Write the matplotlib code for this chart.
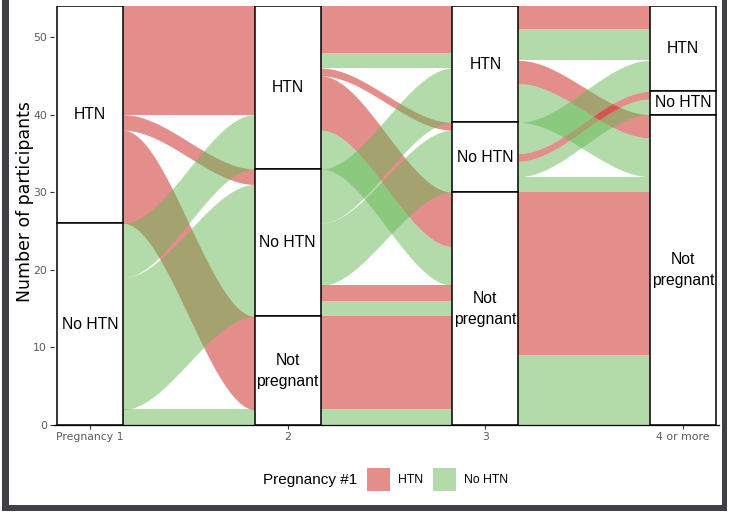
import numpy as np
import matplotlib
matplotlib.use("Agg")
import matplotlib.pyplot as plt
from matplotlib.patches import Rectangle

# ---------------- data ----------------
axis_labels = ["Pregnancy 1", "2", "3", "4 or more"]
strata_order = ["HTN", "No HTN", "Not pregnant"]          # top -> bottom
strata_text = {"HTN": "HTN", "No HTN": "No HTN", "Not pregnant": "Not\npregnant"}
groups = ["HTN", "No HTN"]                                 # Pregnancy #1 status
group_colors = {"HTN": "#C81E19", "No HTN": "#66B854"}

# (stratum at left axis, stratum at right axis, Pregnancy #1 group, participants)
flows_1_2 = [
    ("HTN", "HTN", "HTN", 14),
    ("HTN", "No HTN", "HTN", 2),
    ("HTN", "Not pregnant", "HTN", 12),
    ("No HTN", "HTN", "No HTN", 7),
    ("No HTN", "No HTN", "No HTN", 17),
    ("No HTN", "Not pregnant", "No HTN", 2),
]
flows_2_3 = [
    ("HTN", "HTN", "HTN", 6),
    ("HTN", "HTN", "No HTN", 2),
    ("HTN", "No HTN", "HTN", 1),
    ("HTN", "Not pregnant", "HTN", 7),
    ("HTN", "Not pregnant", "No HTN", 5),
    ("No HTN", "HTN", "No HTN", 7),
    ("No HTN", "No HTN", "No HTN", 8),
    ("No HTN", "Not pregnant", "HTN", 2),
    ("No HTN", "Not pregnant", "No HTN", 2),
    ("Not pregnant", "Not pregnant", "HTN", 12),
    ("Not pregnant", "Not pregnant", "No HTN", 2),
]
flows_3_4 = [
    ("HTN", "HTN", "HTN", 3),
    ("HTN", "HTN", "No HTN", 4),
    ("HTN", "Not pregnant", "HTN", 3),
    ("HTN", "Not pregnant", "No HTN", 5),
    ("No HTN", "HTN", "No HTN", 4),
    ("No HTN", "No HTN", "HTN", 1),
    ("No HTN", "No HTN", "No HTN", 2),
    ("No HTN", "Not pregnant", "No HTN", 2),
    ("Not pregnant", "Not pregnant", "HTN", 21),
    ("Not pregnant", "Not pregnant", "No HTN", 9),
]
gaps = [flows_1_2, flows_2_3, flows_3_4]

W, H = 729, 513
BOX_W = 1.0 / 3.0
SANS = ["Liberation Sans", "DejaVu Sans"]


def fx(px):
    return px / W


def fy(py):
    return 1 - py / H


def side_positions(flows, side):
    other = 1 - side
    totals = {s: sum(f[3] for f in flows if f[side] == s) for s in strata_order}
    total = sum(totals.values())
    tops = {}
    cur = total
    for s in strata_order:
        tops[s] = cur
        cur -= totals[s]
    order = sorted(range(len(flows)),
                   key=lambda k: (strata_order.index(flows[k][side]),
                                  strata_order.index(flows[k][other]),
                                  groups.index(flows[k][2])))
    pos = {}
    cur = total
    for k in order:
        pos[k] = (cur, cur - flows[k][3])
        cur -= flows[k][3]
    return pos, totals, tops


fig = plt.figure(figsize=(W / 100, H / 100), dpi=100)
ax = fig.add_axes([fx(54), fy(425), fx(719) - fx(54), fy(6) - fy(425)])

# strata per axis
axis_strata = []
for gi, fl in enumerate(gaps):
    _, totals, tops = side_positions(fl, 0)
    axis_strata.append((totals, tops))
_, totals, tops = side_positions(gaps[-1], 1)
axis_strata.append((totals, tops))

# flows
t = np.linspace(0, 1, 200)
s = t * t * (3 - 2 * t)
for g in groups:
    for gi, fl in enumerate(gaps):
        lp, _, _ = side_positions(fl, 0)
        rp, _, _ = side_positions(fl, 1)
        x0 = (gi + 1) + BOX_W / 2
        x1 = (gi + 2) - BOX_W / 2
        xs = x0 + (x1 - x0) * t
        for k, f in enumerate(fl):
            if f[2] != g:
                continue
            lt, lb = lp[k]
            rt, rb = rp[k]
            top = lt + (rt - lt) * s
            bot = lb + (rb - lb) * s
            ax.fill_between(xs, bot, top, color=group_colors[g], alpha=0.5,
                            linewidth=0, zorder=2)

# strata boxes
for ai, (totals, tops) in enumerate(axis_strata):
    xc = ai + 1
    for st in strata_order:
        n = totals[st]
        if n == 0:
            continue
        topv = tops[st]
        ax.add_patch(Rectangle((xc - BOX_W / 2, topv - n), BOX_W, n,
                               facecolor="white", edgecolor="black",
                               linewidth=1.1, zorder=3))
        ax.text(xc, topv - n / 2, strata_text[st], ha="center", va="center",
                fontsize=11.3, family=SANS, color="black", zorder=4,
                linespacing=1.5)

ax.set_xlim(0.8182, 4.1818)
ax.set_ylim(0, 54)
ax.set_xticks([1, 2, 3, 4])
ax.set_xticklabels(axis_labels)
ax.set_yticks([0, 10, 20, 30, 40, 50])
for sp in ["top", "right", "left"]:
    ax.spines[sp].set_visible(False)
ax.spines["bottom"].set_color("black")
ax.spines["bottom"].set_linewidth(0.9)
ax.spines["bottom"].set_zorder(5)
ax.tick_params(axis="both", length=3, width=0.8, color="#333333",
               labelsize=7.8, labelcolor="#5a5a5a", pad=2)
ax.set_facecolor("none")

fig.text(fx(25), fy(202), "Number of participants", rotation=90,
         ha="center", va="center", fontsize=12.4, color="black")

# legend
fig.text(fx(263), fy(480), "Pregnancy #1", ha="left", va="center",
         fontsize=11, family=SANS, color="black")
key_x = [367, 433]
lab_x = [398, 464]
for g, kx, lx in zip(groups, key_x, lab_x):
    fig.patches.append(Rectangle((fx(kx), fy(491)), fx(23), 23 / H,
                                 transform=fig.transFigure,
                                 facecolor=group_colors[g], alpha=0.5,
                                 edgecolor="none"))
    fig.text(fx(lx), fy(480), g, ha="left", va="center", fontsize=8.8,
             family=SANS, color="black")

# screenshot frame
frame_col = "#3d4045"
fig.patches.append(Rectangle((fx(2), fy(511)), fx(6.5), 511 / H,
                             transform=fig.transFigure, facecolor=frame_col,
                             edgecolor="none"))
fig.patches.append(Rectangle((fx(721.5), fy(511)), fx(5.5), 511 / H,
                             transform=fig.transFigure, facecolor=frame_col,
                             edgecolor="none"))
fig.patches.append(Rectangle((fx(2), fy(511)), fx(725), 6 / H,
                             transform=fig.transFigure, facecolor=frame_col,
                             edgecolor="none"))

fig.savefig("out.png", dpi=100)
